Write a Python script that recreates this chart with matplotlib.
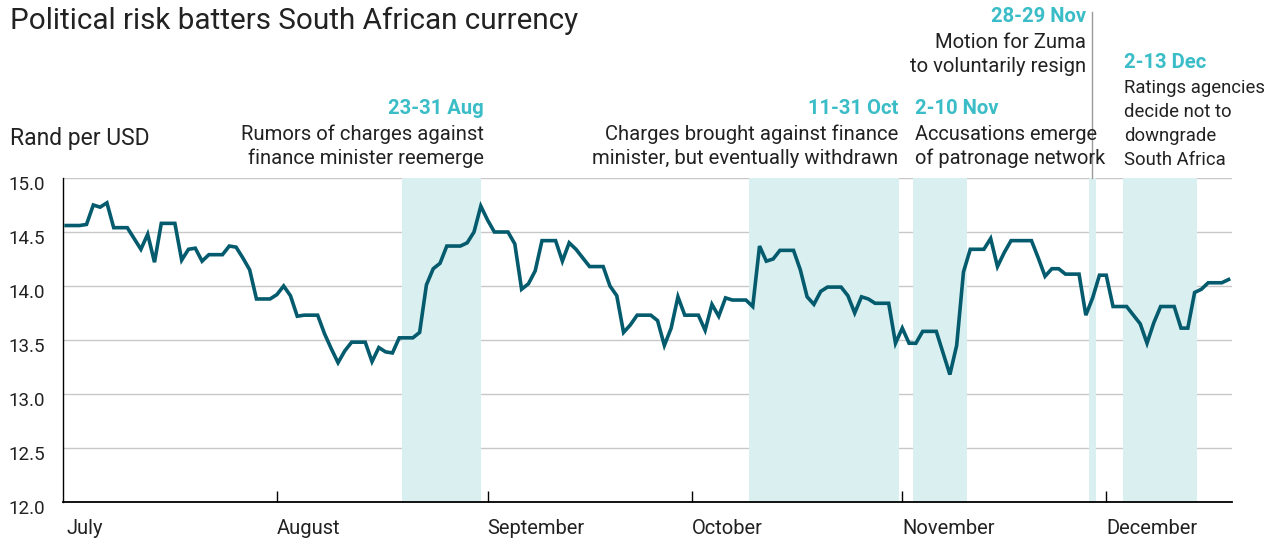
import matplotlib
matplotlib.use("Agg")
import matplotlib.pyplot as plt
import matplotlib.transforms as mtransforms
from matplotlib.transforms import ScaledTranslation
import pandas as pd

plt.rcParams["font.family"] = ["Roboto", "DejaVu Sans"]

# daily rand per USD, 1 Jul 2016 onwards (weekends carry the Friday value)
start_date = "2016-07-01"
rand_per_usd = [
    14.56, 14.56, 14.56, 14.57, 14.75, 14.73, 14.77, 14.54, 14.54, 14.54,
    14.44, 14.34, 14.48, 14.22, 14.58, 14.58, 14.58, 14.24, 14.34, 14.35,
    14.23, 14.29, 14.29, 14.29, 14.37, 14.36, 14.26, 14.15, 13.88, 13.88,
    13.88, 13.92, 14.00, 13.91, 13.72, 13.73, 13.73, 13.73, 13.56, 13.42,
    13.29, 13.40, 13.48, 13.48, 13.48, 13.30, 13.43, 13.39, 13.38, 13.52,
    13.52, 13.52, 13.57, 14.01, 14.16, 14.21, 14.37, 14.37, 14.37, 14.40,
    14.50, 14.74, 14.61, 14.50, 14.50, 14.50, 14.39, 13.97, 14.02, 14.14,
    14.42, 14.42, 14.42, 14.23, 14.40, 14.34, 14.26, 14.18, 14.18, 14.18,
    14.00, 13.91, 13.57, 13.64, 13.73, 13.73, 13.73, 13.68, 13.45, 13.61,
    13.90, 13.73, 13.73, 13.73, 13.59, 13.83, 13.72, 13.89, 13.87, 13.87,
    13.87, 13.81, 14.37, 14.23, 14.25, 14.33, 14.33, 14.33, 14.15, 13.90,
    13.83, 13.95, 13.99, 13.99, 13.99, 13.91, 13.75, 13.90, 13.88, 13.84,
    13.84, 13.84, 13.47, 13.61, 13.47, 13.47, 13.58, 13.58, 13.58, 13.38,
    13.18, 13.45, 14.13, 14.34, 14.34, 14.34, 14.44, 14.18, 14.31, 14.42,
    14.42, 14.42, 14.42, 14.26, 14.09, 14.16, 14.16, 14.11, 14.11, 14.11,
    13.73, 13.89, 14.10, 14.10, 13.81, 13.81, 13.81, 13.73, 13.65, 13.47,
    13.66, 13.81, 13.81, 13.81, 13.61, 13.61, 13.94, 13.97, 14.03, 14.03,
    14.03, 14.06,
]

month_ticks = ["2016-07-01", "2016-08-01", "2016-09-01", "2016-10-01", "2016-11-01", "2016-12-01"]
month_labels = ["July", "August", "September", "October", "November", "December"]
y_ticks = [12.0, 12.5, 13.0, 13.5, 14.0, 14.5, 15.0]

# highlighted periods
event_labels = ["23-31 Aug", "11-31 Oct", "2-10 Nov", "28-29 Nov", "2-13 Dec"]
event_starts = ["2016-08-19 10:00", "2016-10-09 10:00", "2016-11-02 13:00", "2016-11-28 10:00", "2016-12-03 10:00"]
event_ends = ["2016-08-31 00:00", "2016-10-31 12:00", "2016-11-10 14:00", "2016-11-29 12:00", "2016-12-14 10:00"]
event_texts = [
    ["Rumors of charges against", "finance minister reemerge"],
    ["Charges brought against finance", "minister, but eventually withdrawn"],
    ["Accusations emerge", "of patronage network"],
    ["Motion for Zuma", "to voluntarily resign"],
    ["Ratings agencies", "decide not to", "downgrade", "South Africa"],
]

line_color = "#035b6d"
shade_color = "#daeff0"
label_color = "#3bbdc8"
text_color = "#222222"

dates = pd.date_range(start_date, periods=len(rand_per_usd), freq="D")
t0 = pd.Timestamp(start_date)

fig = plt.figure(figsize=(12.71, 5.42), dpi=100)
ax = fig.add_axes([63 / 1271, 40 / 542, 1169 / 1271, 324 / 542])

for s, e in zip(event_starts, event_ends):
    ax.axvspan(pd.Timestamp(s), pd.Timestamp(e), color=shade_color, lw=0, zorder=1)

ax.plot(dates, rand_per_usd, color=line_color, lw=2.6, solid_joinstyle="miter", zorder=3)

ax.set_ylim(12, 15)
ax.set_xlim(t0 - pd.Timedelta(hours=11), t0 + pd.Timedelta(hours=171.5 * 24))
ax.set_yticks(y_ticks)
ax.set_yticklabels([f"{v:.1f}" for v in y_ticks])
ax.set_xticks([pd.Timestamp(m) for m in month_ticks])
ax.set_xticklabels(month_labels, ha="left")

ax.grid(axis="y", color="#c8c8c8", lw=1, zorder=0)
ax.set_axisbelow(True)
for side in ["top", "right"]:
    ax.spines[side].set_visible(False)
ax.spines["left"].set_linewidth(1.0)
ax.spines["bottom"].set_linewidth(1.3)
ax.tick_params(axis="y", length=0, pad=13, labelsize=13.5, labelcolor=text_color)
ax.tick_params(axis="x", direction="in", length=8, width=1, pad=12, labelsize=14.5, labelcolor=text_color)
ax.xaxis.get_major_ticks()[0].tick1line.set_visible(False)
for lab in ax.get_yticklabels():
    lab.set_transform(lab.get_transform() + ScaledTranslation(0, -5 / 100, fig.dpi_scale_trans))

fig.text(10 / 1271, 1 - 21 / 542, "Political risk batters South African currency",
         fontsize=21.3, color=text_color, va="center", ha="left")
fig.text(10 / 1271, 1 - 138 / 542, "Rand per USD", fontsize=16.5, color=text_color, va="center", ha="left")

# annotation layout: anchor at span start or end, alignment, header height (image px), x nudge, body size
anchor_end = [True, True, False, False, False]
aligns = ["right", "right", "left", "right", "left"]
header_y = [108, 108, 108, 17, 62]
nudges = [3, -1, 2, -3, 1]
body_sizes = [14.6, 14.6, 14.4, 14.6, 13.3]

trans = mtransforms.blended_transform_factory(ax.transData, fig.transFigure)
for i, label in enumerate(event_labels):
    x = pd.Timestamp(event_ends[i] if anchor_end[i] else event_starts[i])
    off = mtransforms.offset_copy(trans, fig=fig, x=nudges[i], units="dots")
    ax.text(x, 1 - header_y[i] / 542, label, transform=off, ha=aligns[i], va="center",
            fontsize=14.6, fontweight="bold", color=label_color)
    for j, line in enumerate(event_texts[i]):
        y = header_y[i] + 26 + 24 * j
        ax.text(x, 1 - y / 542, line, transform=off, ha=aligns[i], va="center",
                fontsize=body_sizes[i], color=text_color)

# divider line for the 28-29 Nov note
mid = pd.Timestamp(event_starts[3]) + (pd.Timestamp(event_ends[3]) - pd.Timestamp(event_starts[3])) / 2
ax.plot([mid, mid], [1 - 12 / 542, 1 - 178 / 542], transform=trans, color="#9a9a9a", lw=1, clip_on=False)

fig.savefig("out.png", dpi=100)
